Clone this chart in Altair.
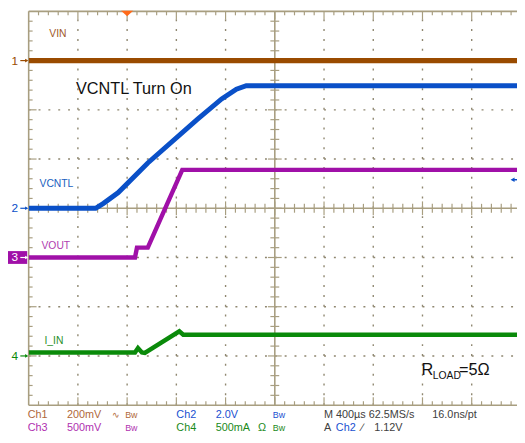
import altair as alt
import pandas as pd
import numpy as np

# ---- trace data: time in screen divisions (400 us/div), level in divisions from screen centre
vin_t = [0.0, 9.92]
vin_y = [3.0, 3.0]

vcntl_t = [0.0, 1.36, 1.52, 1.82, 2.42, 3.42, 3.92, 4.22, 4.42, 9.92]
vcntl_y = [0.0, 0.0, 0.10, 0.32, 0.92, 1.80, 2.22, 2.42, 2.49, 2.49]

vout_t = [0.0, 2.16, 2.20, 2.42, 2.80, 3.12, 9.92]
vout_y = [-1.0, -1.0, -0.80, -0.80, 0.06, 0.78, 0.78]

iin_t = [0.0, 2.16, 2.22, 2.30, 2.36, 3.06, 3.14, 9.92]
iin_y = [-2.93, -2.93, -2.84, -2.93, -2.94, -2.50, -2.57, -2.57]

# ---- labels
trace_labels = ["VIN", "VCNTL", "VOUT", "I_IN"]
channel_ids = ["1", "2", "3", "4"]
status_row1 = ["Ch1", "200mV", "\u223f", "Bw", "Ch2", "2.0V", "Bw", "M 400\u00b5s 62.5MS/s", "16.0ns/pt"]
status_row2 = ["Ch3", "500mV", "Bw", "Ch4", "500mA", "\u03a9", "Bw", "A", "Ch2", "\u2215", "1.12V"]
title_text = "VCNTL Turn On"

BROWN, BLUE, PURPLE, GREEN = "#9a4b00", "#0a50c8", "#a010a8", "#0a8a0a"
GRID = "#a89e80"

xs = alt.Scale(domain=[0, 9.92], nice=False, zero=False)
ys = alt.Scale(domain=[-4, 4], nice=False, zero=False)


def X(f="x"):
    return alt.X(f"{f}:Q", scale=xs, axis=None)


def Y(f="y"):
    return alt.Y(f"{f}:Q", scale=ys, axis=None)


layers = []

# ---- graticule
dot_v = pd.DataFrame({"x": [1, 2, 3, 4, 6, 7, 8, 9, 10], "y": -4.0, "y2": 4.0})
dot_h = pd.DataFrame({"y": [-3, -2, -1, 1, 2, 3], "x": 0.0, "x2": 9.92})
layers.append(alt.Chart(dot_v).mark_rule(color="#8f8770", strokeWidth=1.4, strokeDash=[2, 8]).encode(
    x=X(), y=Y(), y2="y2:Q"))
layers.append(alt.Chart(dot_h).mark_rule(color="#8f8770", strokeWidth=1.4, strokeDash=[2, 8]).encode(
    x=X(), x2="x2:Q", y=Y()))

solid_v = pd.DataFrame({"x": [0.0, 5.0], "y": -4.0, "y2": 4.0})
solid_h = pd.DataFrame({"y": [-4.0, 0.0, 4.0], "x": 0.0, "x2": 9.92})
layers.append(alt.Chart(solid_v).mark_rule(color=GRID, strokeWidth=1.6).encode(x=X(), y=Y(), y2="y2:Q"))
layers.append(alt.Chart(solid_h).mark_rule(color=GRID, strokeWidth=1.6).encode(x=X(), x2="x2:Q", y=Y()))

xt = np.round(np.arange(0.2, 9.92, 0.2), 2)
yt = np.round(np.arange(-3.8, 4.0, 0.2), 2)
xmaj = np.isclose(xt, np.round(xt))
ymaj = np.isclose(yt, np.round(yt))
tick_rows = []
for v, m in zip(xt, xmaj):
    L = 0.14 if m else 0.09
    tick_rows.append({"x": v, "x2": v, "y": -L, "y2": L})                      # centre horizontal
    tick_rows.append({"x": v, "x2": v, "y": 4.0, "y2": 4.0 - (0.16 if m else 0.08)})   # top border
    tick_rows.append({"x": v, "x2": v, "y": -4.0, "y2": -4.0 + (0.16 if m else 0.08)})  # bottom border
for v, m in zip(yt, ymaj):
    L = 0.14 if m else 0.09
    tick_rows.append({"x": 5 - L, "x2": 5 + L, "y": v, "y2": v})               # centre vertical
    tick_rows.append({"x": 0.0, "x2": 0.16 if m else 0.08, "y": v, "y2": v})   # left border
ticks = pd.DataFrame(tick_rows)
layers.append(alt.Chart(ticks).mark_rule(color=GRID, strokeWidth=1.2).encode(
    x=X(), x2="x2:Q", y=Y(), y2="y2:Q"))

# ---- traces
for t, v, c, w in [(vin_t, vin_y, BROWN, 5.5), (vcntl_t, vcntl_y, BLUE, 5), (vout_t, vout_y, PURPLE, 4.5),
                   (iin_t, iin_y, GREEN, 4.5)]:
    df = pd.DataFrame({"x": t, "y": v, "o": range(len(t))})
    layers.append(alt.Chart(df).mark_line(color=c, strokeWidth=w, clip=True, strokeJoin="miter").encode(
        x=X(), y=Y(), order="o:Q"))

# ---- channel ground markers on the left
mk = pd.DataFrame({"id": channel_ids, "y": [3.0, 0.0, -1.0, -3.0],
                   "c": [BROWN, BLUE, "#ffffff", GREEN]})
box = pd.DataFrame({"x": [-0.44], "x2": [-0.03], "y": [-0.87], "y2": [-1.13]})
layers.append(alt.Chart(box).mark_rect(color=PURPLE).encode(x=X(), x2="x2:Q", y=Y(), y2="y2:Q"))
mk["x"] = -0.28
mk["xa"] = -0.17
mk["xb"] = -0.04
layers.append(alt.Chart(mk).mark_text(font="Liberation Sans", fontSize=12, align="center", baseline="middle").encode(
    x=X(), y=Y(), text="id:N", color=alt.Color("c:N", scale=None)))
layers.append(alt.Chart(mk).mark_rule(strokeWidth=1.2).encode(
    x=X("xa"), x2="xb:Q", y=Y(), color=alt.Color("c:N", scale=None)))
layers.append(alt.Chart(mk).mark_point(shape="triangle-right", filled=True, size=14, opacity=1).encode(
    x=X("xb"), y=Y(), color=alt.Color("c:N", scale=None)))

# trigger position marker (top) and trigger level marker (right)
trig = pd.DataFrame({"x": [2.0], "y": [3.955]})
layers.append(alt.Chart(trig).mark_point(shape="M-1,-0.45L1,-0.45L0,0.45Z", filled=True, size=150,
                                         color="#ff6a1a", opacity=1).encode(x=X(), y=Y()))
lvl = pd.DataFrame({"x": [9.83], "x2": [9.92], "y": [0.58]})
layers.append(alt.Chart(lvl).mark_rule(color=BLUE, strokeWidth=1.5).encode(x=X(), x2="x2:Q", y=Y()))
layers.append(alt.Chart(lvl).mark_point(shape="triangle-left", filled=True, size=22, color=BLUE, opacity=1).encode(
    x=X(), y=Y()))

# ---- trace name labels
tl = pd.DataFrame({"t": trace_labels, "x": [0.42, 0.22, 0.26, 0.32], "y": [3.54, 0.5, -0.76, -2.7],
                   "c": ["#a0582a", "#2060c0", "#b040b0", "#2a902a"]})
layers.append(alt.Chart(tl).mark_text(font="Liberation Sans", fontSize=10.5, align="left", baseline="middle").encode(
    x=X(), y=Y(), text="t:N", color=alt.Color("c:N", scale=None)))

# ---- annotation text
tt = pd.DataFrame({"t": [title_text], "x": [0.96], "y": [2.42]})
layers.append(alt.Chart(tt).mark_text(font="Liberation Sans", fontSize=16.5, align="left", baseline="middle",
                                      color="#111111").encode(x=X(), y=Y(), text="t:N"))
rl = pd.DataFrame({"t": ["R", "LOAD", "=5\u03a9"], "x": [7.98, 8.21, 8.74], "y": [-3.38, -3.47, -3.38],
                   "s": [16.5, 10.5, 16.5]})
layers.append(alt.Chart(rl).mark_text(font="Liberation Sans", align="left", baseline="alphabetic",
                                      color="#111111").encode(
    x=X(), y=Y(), text="t:N", size=alt.Size("s:Q", scale=None)))

# ---- status bar
px1 = [28, 68, 114, 127, 179, 219, 277, 329, 439]
px2 = [28, 68, 127, 179, 219, 262, 277, 329, 341, 367, 380]
c1 = ["#b0683a", "#b0683a", "#b0683a", "#b0683a", "#2050d0", "#2050d0", "#2050d0", "#404040", "#404040"]
c2 = ["#b030b0", "#b030b0", "#b030b0", "#1a8a1a", "#1a8a1a", "#1a8a1a", "#1a8a1a", "#404040", "#2050d0",
      "#404040", "#404040"]
s1 = [11, 11, 9, 9, 11, 11, 9, 11, 11]
s2 = [11, 11, 9, 11, 11, 11, 9, 11, 11, 11, 11]
st = pd.DataFrame({
    "t": status_row1 + status_row2,
    "x": [(p - 29) / 50 for p in px1 + px2],
    "y": [-4.2] * len(px1) + [-4.46] * len(px2),
    "c": c1 + c2,
    "s": s1 + s2,
})
layers.append(alt.Chart(st).mark_text(font="Liberation Sans", align="left", baseline="middle").encode(
    x=X(), y=Y(), text="t:N", color=alt.Color("c:N", scale=None), size=alt.Size("s:Q", scale=None)))

chart = alt.layer(*layers).properties(
    width=496, height=400,
    autosize=alt.AutoSizeParams(type="none"),
    padding={"left": 21, "top": 0, "right": 0, "bottom": 35},
    background="white",
).configure_view(stroke=None)

chart.save("out.html", embed_options={"renderer": "svg", "actions": False})
